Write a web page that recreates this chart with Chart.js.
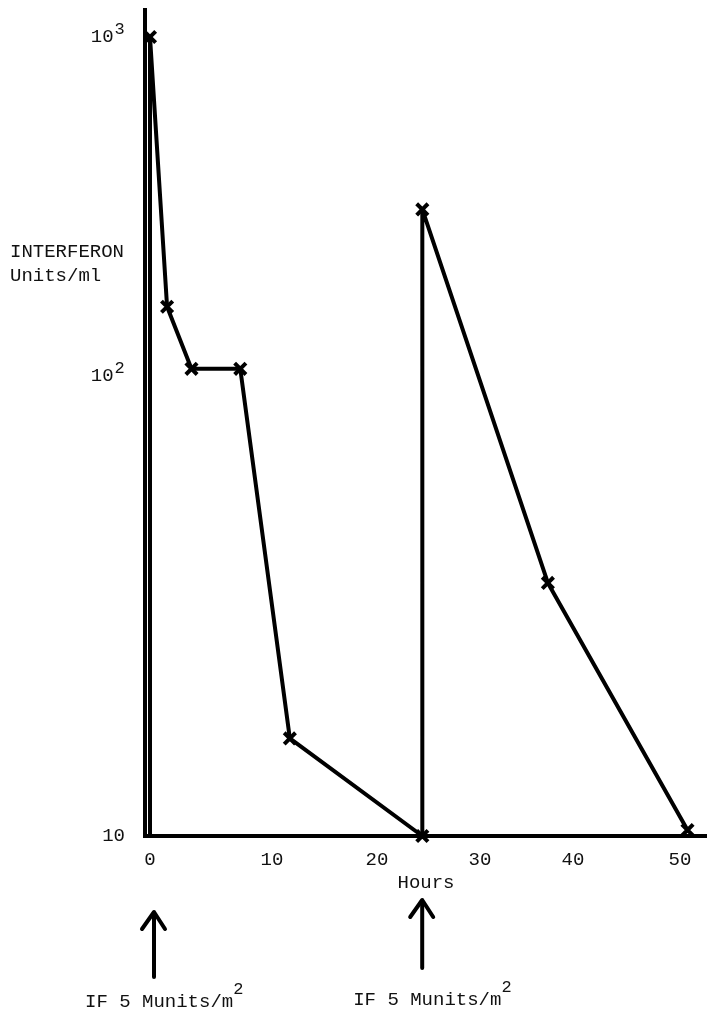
<!DOCTYPE html>
<html>
<head>
<meta charset="utf-8">
<script src="https://cdn.jsdelivr.net/npm/chart.js@4/dist/chart.umd.min.js"></script>
<style>
  html, body { margin: 0; padding: 0; background: #fff; }
  canvas { display: block; }
</style>
</head>
<body>
<canvas id="c" width="707" height="1012"></canvas>
<script>
// ---------------- DATA ----------------
const HOURS = [0, 0, 1.4, 3.4, 7.4, 11.7, 24.4, 24.4, 37.3, 50.7];
const UNITS = [10, 1000, 160, 105, 105, 16.3, 10, 310, 35.5, 10.3];
const MARKED = [false, true, true, true, true, true, true, true, true, true];
const X_TICKS = [0, 10, 20, 30, 40, 50];
const Y_TICKS = [10, 100, 1000];
const Y_TICK_BASE = ['10', '10', '10'];
const Y_TICK_EXP = ['', '2', '3'];
const X_TITLE = 'Hours';
const Y_TITLE = ['INTERFERON', 'Units/ml'];
const DOSE_TIMES = [0, 24];
const DOSE_LABEL = 'IF 5 Munits/m';
const DOSE_SUP = '2';

// ---------------- LAYOUT (pixels) ----------------
const AREA = { left: 145, right: 707, top: 10, bottom: 836 };
// where the hand-placed tick labels sit in the original drawing
const X_TICK_PX = [150, 272, 377, 480, 573, 680];
const Y_TICK_PX = [836, 376, 37];
const FONT = { family: '"Liberation Mono", "DejaVu Sans Mono", monospace', size: 19 };
const SUP_FONT = '17px "Liberation Mono", "DejaVu Sans Mono", monospace';
const Y_TICK_PAD = 20;
const INK = '#111';

// piecewise scale that follows the irregular spacing of the hand-drawn axes
const ANCHORS = {
  x: { log: false, values: X_TICKS,
       dec: X_TICK_PX.map(p => (p - AREA.left) / (AREA.right - AREA.left)) },
  y: { log: true, values: Y_TICKS,
       dec: Y_TICK_PX.map(p => (AREA.bottom - p) / (AREA.bottom - AREA.top)) }
};

class AnchoredScale extends Chart.LinearScale {
  static id = 'anchored';
  static defaults = {};
  _a() { return ANCHORS[this.id]; }
  getPadding() { return { left: 0, top: 0, right: 0, bottom: 0 }; }
  _toDec(v) {
    const a = this._a();
    const f = a.log ? Math.log10 : (t => t);
    const t = f(v);
    const av = a.values.map(f), ad = a.dec;
    let i = 0;
    while (i < av.length - 2 && t > av[i + 1]) i++;
    return ad[i] + (t - av[i]) / (av[i + 1] - av[i]) * (ad[i + 1] - ad[i]);
  }
  getPixelForValue(v) {
    if (v === null || v === undefined || isNaN(v)) return NaN;
    return this.getPixelForDecimal(this._toDec(v));
  }
  getValueForPixel(p) {
    const a = this._a();
    const d = this.getDecimalForPixel(p);
    const f = a.log ? Math.log10 : (t => t);
    const av = a.values.map(f), ad = a.dec;
    let i = 0;
    while (i < ad.length - 2 && d > ad[i + 1]) i++;
    const t = av[i] + (d - ad[i]) / (ad[i + 1] - ad[i]) * (av[i + 1] - av[i]);
    return a.log ? Math.pow(10, t) : t;
  }
}
Chart.register(AnchoredScale);

const annotations = {
  id: 'annotations',
  afterDraw(chart) {
    const ctx = chart.ctx;
    const xs = chart.scales.x, ys = chart.scales.y;
    ctx.save();
    ctx.fillStyle = INK;
    ctx.font = FONT.size + 'px ' + FONT.family;
    ctx.textAlign = 'left';
    ctx.textBaseline = 'alphabetic';
    ctx.fillText(Y_TITLE[0], 10, 257);
    ctx.fillText(Y_TITLE[1], 10, 281);

    // exponents of the y tick labels (tick label text ends with a space for them)
    const spaceW = ctx.measureText(' ').width;
    ctx.font = SUP_FONT;
    Y_TICKS.forEach((v, i) => {
      if (!Y_TICK_EXP[i]) return;
      const py = ys.getPixelForValue(v);
      ctx.fillText(Y_TICK_EXP[i], ys.right - Y_TICK_PAD - spaceW + 1, py - 3);
    });

    const tipY = [912, 900], endY = [977, 968], baseY = [1007, 1005];
    DOSE_TIMES.forEach((t, i) => {
      const x = xs.getPixelForValue(t) + 4;
      ctx.strokeStyle = '#000';
      ctx.lineWidth = 4;
      ctx.lineCap = 'round';
      ctx.lineJoin = 'round';
      ctx.beginPath();
      ctx.moveTo(x, endY[i]);
      ctx.lineTo(x, tipY[i] + 2);
      ctx.stroke();
      ctx.beginPath();
      ctx.moveTo(x - 12, tipY[i] + 17);
      ctx.lineTo(x, tipY[i]);
      ctx.lineTo(x + 11, tipY[i] + 17);
      ctx.stroke();

      ctx.font = FONT.size + 'px ' + FONT.family;
      const tx = x - 69;
      ctx.fillText(DOSE_LABEL, tx, baseY[i]);
      const w = ctx.measureText(DOSE_LABEL).width;
      ctx.font = SUP_FONT;
      ctx.fillText(DOSE_SUP, tx + w, baseY[i] - 13);
    });
    ctx.restore();
  }
};

new Chart(document.getElementById('c'), {
  type: 'line',
  data: {
    datasets: [{
      data: HOURS.map((h, i) => ({ x: h, y: UNITS[i] })),
      borderColor: '#000',
      borderWidth: 4,
      borderJoinStyle: 'round',
      borderCapStyle: 'round',
      tension: 0,
      fill: false,
      clip: false,
      pointStyle: 'crossRot',
      pointRadius: MARKED.map(m => (m ? 8 : 0)),
      pointBorderWidth: 4,
      pointBorderColor: '#000',
      pointBackgroundColor: '#000'
    }]
  },
  options: {
    responsive: false,
    animation: false,
    devicePixelRatio: 1,
    layout: { autoPadding: false, padding: { top: AREA.top, right: 0, bottom: 0, left: 0 } },
    plugins: { legend: { display: false }, tooltip: { enabled: false } },
    scales: {
      x: {
        type: 'anchored',
        position: 'bottom',
        min: -0.41,
        max: 52.5,
        grid: { display: false, drawTicks: false },
        border: { display: true, color: '#000', width: 4 },
        ticks: {
          color: INK, font: FONT, padding: 13, maxRotation: 0, autoSkip: false,
          callback: v => String(v)
        },
        title: { display: true, text: X_TITLE, color: INK, font: FONT, padding: { top: 0, bottom: 118 } },
        afterBuildTicks: s => { s.ticks = X_TICKS.map(v => ({ value: v })); },
        afterFit: s => { s.height = 1012 - AREA.bottom; }
      },
      y: {
        type: 'anchored',
        position: 'left',
        min: 10,
        max: 1210,
        grid: { display: false, drawTicks: false },
        border: { display: true, color: '#000', width: 4 },
        ticks: {
          color: INK, font: FONT, padding: Y_TICK_PAD, autoSkip: false,
          callback: (v, i) => Y_TICK_BASE[i] + (Y_TICK_EXP[i] ? ' ' : '')
        },
        afterBuildTicks: s => { s.ticks = Y_TICKS.map(v => ({ value: v })); },
        afterFit: s => { s.width = AREA.left; }
      }
    }
  },
  plugins: [annotations]
});
</script>
</body>
</html>
